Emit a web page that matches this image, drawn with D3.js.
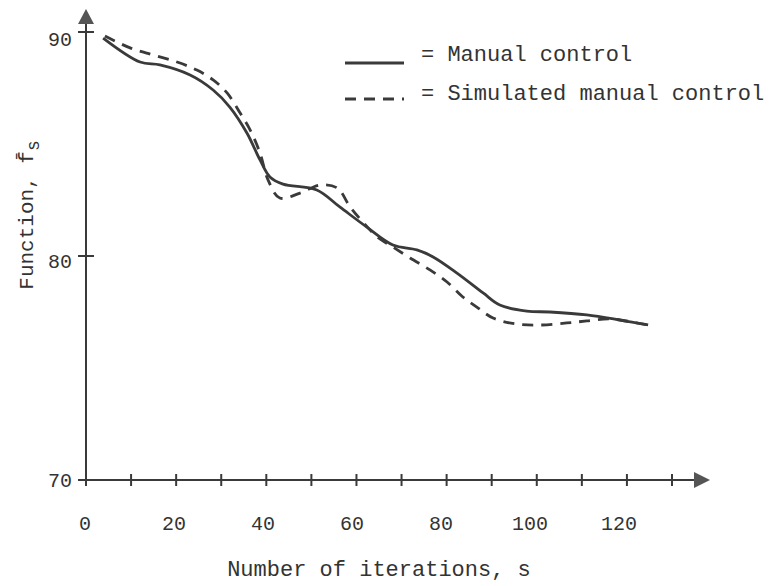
<!DOCTYPE html>
<html><head><meta charset="utf-8">
<script src="https://cdn.jsdelivr.net/npm/d3@7"></script>
<style>body{margin:0;background:#fff}svg{display:block}</style>
</head><body>
<svg id="c" width="773" height="586"></svg>
<script>
const manualX = [3.8,12.0,16.4,23.1,28.2,31.9,35.7,38.6,40.8,43.7,51.2,56.3,62.3,68.1,73.4,77.0,82.3,88.1,91.8,97.8,102.9,111.1,118.5,124.7];
const manualY = [89.73,88.66,88.53,88.08,87.41,86.65,85.49,84.29,83.53,83.21,82.95,82.19,81.29,80.49,80.27,79.96,79.24,78.35,77.81,77.54,77.50,77.37,77.14,76.92];
const simX = [4.2,9.8,14.9,20.2,24.6,28.2,31.3,34.2,36.4,38.6,40.4,43.0,47.5,51.9,55.7,58.6,61.4,64.6,68.1,71.9,76.3,80.1,83.6,86.7,90.3,95.6,101.2,106.7,111.1,116.2,121.3,124.7];
const simY = [89.82,89.29,88.97,88.66,88.30,87.86,87.28,86.38,85.63,84.60,83.39,82.59,82.81,83.17,83.04,82.19,81.52,80.85,80.40,79.91,79.38,78.84,78.17,77.72,77.23,76.96,76.92,77.01,77.10,77.19,77.05,76.92];
const xTicks = [0,10,20,30,40,50,60,70,80,90,100,110,120,130];
const xTickLabels = [0,20,40,60,80,100,120];
const yTicks = [70,80,90];
const seriesNames = ["Manual control","Simulated manual control"];

const svg = d3.select("#c");
const ink = "#3a3a3a";
const font = "'Liberation Mono','Courier New',monospace";
const x = d3.scaleLinear().domain([0,130]).range([86,672]);
const xLab = d3.scaleLinear().domain([0,120]).range([85,619]);
const y = d3.scaleLinear().domain([70,90]).range([480,32]);

// axes lines
svg.append("line").attr("x1",x(0)).attr("x2",700).attr("y1",y(70)).attr("y2",y(70)).attr("stroke",ink).attr("stroke-width",2);
svg.append("line").attr("x1",x(0)).attr("x2",x(0)).attr("y1",y(70)+6).attr("y2",20).attr("stroke",ink).attr("stroke-width",2);
// arrows
svg.append("path").attr("d",`M${x(0)-8},24 L${x(0)},9 L${x(0)+8},24 Z`).attr("fill","#555");
svg.append("path").attr("d",`M694,${y(70)-8} L710,${y(70)} L694,${y(70)+8} Z`).attr("fill","#555");

// x ticks
svg.selectAll(".xt").data(xTicks).join("line")
  .attr("x1",d=>x(d)).attr("x2",d=>x(d)).attr("y1",y(70)-6).attr("y2",y(70)+6)
  .attr("stroke",ink).attr("stroke-width",2);
svg.selectAll(".xl").data(xTickLabels).join("text")
  .attr("x",d=>xLab(d)).attr("y",530).attr("text-anchor","middle")
  .attr("font-family",font).attr("font-size",20).attr("fill","#333").text(d=>d);
// y ticks
svg.selectAll(".yt").data(yTicks).join("line")
  .attr("x1",x(0)-8).attr("x2",x(0)+8).attr("y1",d=>y(d)).attr("y2",d=>y(d))
  .attr("stroke",ink).attr("stroke-width",2);
svg.selectAll(".yl").data(yTicks).join("text")
  .attr("x",72).attr("y",d=>y(d)+(d===90?7:d===80?5:0)).attr("dy","0.35em").attr("text-anchor","end")
  .attr("font-family",font).attr("font-size",20).attr("fill","#333").text(d=>d);

// axis titles
svg.append("text").attr("x",(x(0)+710)/2-19).attr("y",576).attr("text-anchor","middle")
  .attr("font-family",font).attr("font-size",22).attr("fill","#333").text("Number of iterations, s");
const yt = svg.append("text").attr("transform","translate(33,215) rotate(-90)").attr("text-anchor","middle")
  .attr("font-family",font).attr("font-size",21).attr("fill","#333");
yt.append("tspan").text("Function, f\u0304");
yt.append("tspan").attr("dy",6).attr("font-size",18).text("s");

// curves
const line = d3.line().x(d=>x(d[0])).y(d=>y(d[1])).curve(d3.curveCatmullRom.alpha(0.5));
svg.append("path").datum(d3.zip(manualX,manualY)).attr("d",line)
  .attr("fill","none").attr("stroke",ink).attr("stroke-width",2.8);
svg.append("path").datum(d3.zip(simX,simY)).attr("d",line)
  .attr("fill","none").attr("stroke",ink).attr("stroke-width",2.8).attr("stroke-dasharray","11,8");

// legend
const leg = svg.append("g");
[0,1].forEach(i=>{
  const ly = i===0?63:99;
  leg.append("line").attr("x1",345).attr("x2",404).attr("y1",ly).attr("y2",ly)
    .attr("stroke",ink).attr("stroke-width",2.8).attr("stroke-dasharray",i===0?null:"11,8");
  leg.append("text").attr("x",421).attr("y",i===0?61:100)
    .attr("font-family",font).attr("font-size",22).attr("fill","#333").text("= "+seriesNames[i]);
});
</script>
</body></html>
